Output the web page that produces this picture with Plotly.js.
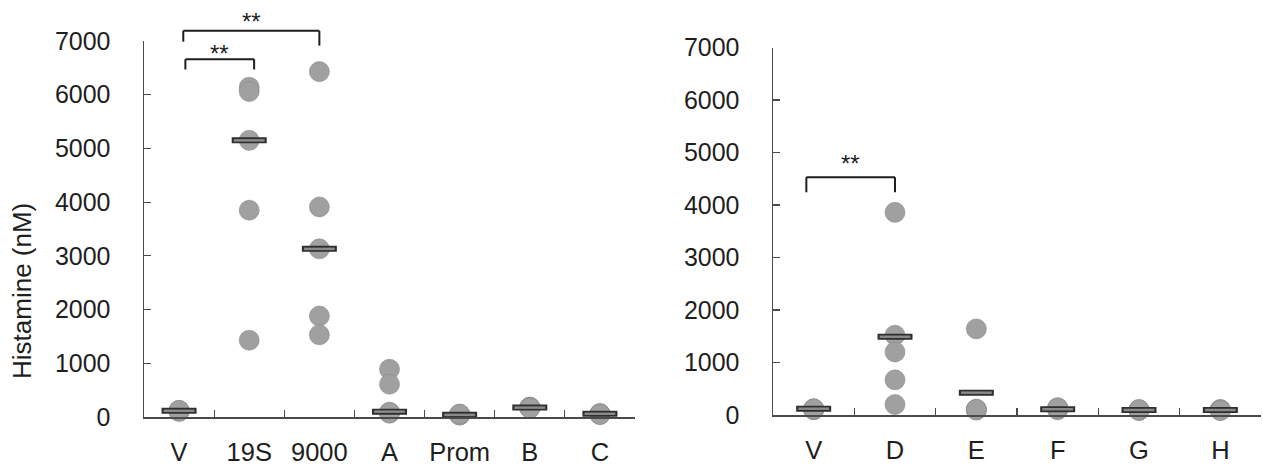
<!DOCTYPE html>
<html><head><meta charset="utf-8">
<script src="https://cdn.plot.ly/plotly-3.0.1.min.js"></script>
<style>html,body{margin:0;padding:0;background:#fff}#chart{width:1263px;height:466px}</style>
</head><body><div id="chart"></div>
<script>
// ---- data ----
const leftCategories = ['V', '19S', '9000', 'A', 'Prom', 'B', 'C'];
const leftValues = [
  [110, 120, 115, 105, 125],
  [6140, 6060, 5150, 3850, 1430],
  [6430, 3910, 3130, 1880, 1530],
  [890, 610, 90, 70, 80],
  [50, 40, 45, 35, 55],
  [180, 175, 170, 185, 165],
  [60, 55, 50, 65, 45]
];
const leftMedians = [115, 5150, 3130, 100, 40, 175, 60];

const rightCategories = ['V', 'D', 'E', 'F', 'G', 'H'];
const rightValues = [
  [110, 100, 120, 105, 115],
  [3860, 1520, 1200, 670, 200],
  [1640, 110, 100, 95, 105],
  [140, 100, 120, 110, 130],
  [95, 90, 100, 85, 105],
  [95, 100, 90, 105, 85]
];
const rightMedians = [120, 1490, 425, 110, 95, 95];

const yTickValues = [0, 1000, 2000, 3000, 4000, 5000, 6000, 7000];
const yMax = 7000;
const yAxisTitle = 'Histamine (nM)';

const leftBrackets = [
  {from: 'V', to: '9000', fromOffset: 0.06, toOffset: 0, top: 7190, fromFoot: 6987, toFoot: 6913, label: '**', labelY: 7447},
  {from: 'V', to: '19S', fromOffset: 0.09, toOffset: 0.07, top: 6660, fromFoot: 6470, toFoot: 6470, label: '**', labelY: 6852}
];
const rightBrackets = [
  {from: 'V', to: 'D', fromOffset: -0.09, toOffset: 0, top: 4528, fromFoot: 4242, toFoot: 4242, label: '**', labelY: 4895}
];

// ---- style ----
const FONT = 'Liberation Sans, Arial, sans-serif';
const DOT = '#a0a0a0';
const AXIS = '#4a4a4a';
const W = 1263, H = 466;

function pointTrace(cats, vals, xa, ya) {
  const x = [], y = [];
  cats.forEach((c, i) => vals[i].forEach(v => { x.push(c); y.push(v); }));
  return {type: 'scatter', mode: 'markers', x, y, xaxis: xa, yaxis: ya, cliponaxis: false,
    marker: {size: 20, color: DOT, line: {width: 0.6, color: '#8a8a8a'}}, hoverinfo: 'y', showlegend: false};
}
function medianTraces(cats, meds, xa, ya) {
  return [
    {type: 'scatter', mode: 'markers', x: cats, y: meds, xaxis: xa, yaxis: ya, cliponaxis: false,
      marker: {symbol: 'line-ew', size: 25, color: '#2e2e2e', line: {width: 6, color: '#2e2e2e'}}, hoverinfo: 'y', showlegend: false},
    {type: 'scatter', mode: 'markers', x: cats, y: meds, xaxis: xa, yaxis: ya, cliponaxis: false,
      marker: {symbol: 'line-ew', size: 22, color: '#8a8a8a', line: {width: 2.5, color: '#8a8a8a'}}, hoverinfo: 'skip', showlegend: false}
  ];
}

const data = [
  pointTrace(leftCategories, leftValues, 'x', 'y'),
  ...medianTraces(leftCategories, leftMedians, 'x', 'y'),
  pointTrace(rightCategories, rightValues, 'x2', 'y2'),
  ...medianTraces(rightCategories, rightMedians, 'x2', 'y2')
];

const shapes = [], annotations = [];
function addBrackets(list, cats, xref, yref) {
  list.forEach(b => {
    const x0 = cats.indexOf(b.from) + b.fromOffset;
    const x1 = cats.indexOf(b.to) + b.toOffset;
    const line = {color: '#1e1e1e', width: 2};
    const yd = yref + ' domain';
    shapes.push({type: 'line', xref, yref: yd, x0, x1: x0, y0: b.fromFoot / yMax, y1: b.top / yMax, line});
    shapes.push({type: 'line', xref, yref: yd, x0, x1, y0: b.top / yMax, y1: b.top / yMax, line});
    shapes.push({type: 'line', xref, yref: yd, x0: x1, x1, y0: b.toFoot / yMax, y1: b.top / yMax, line});
    annotations.push({xref, yref: yd, x: (x0 + x1) / 2, y: b.labelY / yMax, text: b.label, showarrow: false,
      yanchor: 'middle', yshift: -5, font: {family: FONT, size: 24, color: '#1e1e1e'}});
  });
}
addBrackets(leftBrackets, leftCategories, 'x', 'y');
addBrackets(rightBrackets, rightCategories, 'x2', 'y2');

annotations.push({xref: 'paper', yref: 'paper', x: 22 / W, y: (H - 291) / H, text: yAxisTitle, textangle: -90,
  showarrow: false, xanchor: 'center', yanchor: 'middle', font: {family: FONT, size: 26, color: '#1e1e1e'}});

function xAxis(domain, n, anchor) {
  return {domain, anchor, type: 'category', range: [-0.5, n - 0.5], tickson: 'boundaries', tickangle: 0,
    ticks: 'inside', ticklen: 7, tickwidth: 1.2, tickcolor: AXIS, showline: true, linecolor: AXIS, linewidth: 1.5,
    showgrid: false, zeroline: false, automargin: false, ticklabelstandoff: 12,
    tickfont: {family: FONT, size: 25.5, color: '#1e1e1e'}, fixedrange: true};
}
function yAxis(domain, anchor) {
  return {domain, anchor, range: [0, yMax], tickvals: yTickValues, ticktext: yTickValues.map(String),
    ticks: 'inside', ticklen: 7, tickwidth: 1.2, tickcolor: AXIS, showline: true, linecolor: AXIS, linewidth: 1.5,
    showgrid: false, zeroline: false, automargin: false, ticklabelstandoff: 27,
    tickfont: {family: FONT, size: 25, color: '#1e1e1e'}, fixedrange: true};
}

const layout = {
  width: W, height: H, margin: {l: 0, r: 0, t: 0, b: 0},
  paper_bgcolor: '#fff', plot_bgcolor: 'rgba(0,0,0,0)', showlegend: false,
  font: {family: FONT, color: '#1e1e1e'},
  xaxis: xAxis([144 / W, 635 / W], leftCategories.length, 'y'),
  yaxis: yAxis([(H - 417) / H, (H - 41) / H], 'x'),
  xaxis2: xAxis([773 / W, 1261 / W], rightCategories.length, 'y2'),
  yaxis2: yAxis([(H - 415) / H, (H - 47.5) / H], 'x2'),
  shapes, annotations
};

Plotly.newPlot('chart', data, layout, {displayModeBar: false, staticPlot: true});
</script>
</body></html>
